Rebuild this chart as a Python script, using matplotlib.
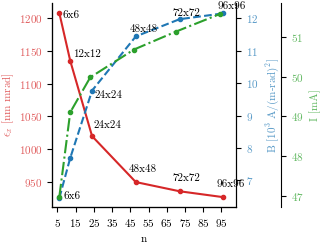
import numpy as np
import matplotlib
matplotlib.use('Agg')
from matplotlib import pyplot as plt

plt.rcParams['font.family'] = 'serif'
plt.rcParams['font.serif'] = ['cmr10']
plt.rcParams['mathtext.fontset'] = 'cm'
plt.rcParams['axes.unicode_minus'] = False
plt.rcParams['axes.formatter.use_mathtext'] = True
plt.rcParams['font.size'] = 8

# data
n_red = [6, 12, 24, 48, 72, 96]
emit = [1208, 1135, 1020, 950, 936, 927]
red_labels = ['6x6', '12x12', '24x24', '48x48', '72x72', '96x96']

n_blue = [6, 12, 24, 48, 72, 96]
bright = [6.45, 7.69, 9.77, 11.44, 11.97, 12.15]
blue_labels = ['6x6', '', '24x24', '48x48', '72x72', '96x96']

n_green = [6, 12, 23, 47, 70, 94]
current = [46.97, 49.1, 49.98, 50.68, 51.13, 51.57]

xticks = [5, 15, 25, 35, 45, 55, 65, 75, 85, 95]

# label offsets in pixels
red_off = [(3, -2), (3, 6), (1, 11), (-7, 13), (-7, 13), (-7, 13)]
blue_off = [(4, 2), (0, 0), (2, -5), (-6, 7), (-7, 6), (-6, 7)]

c_red = '#d62728'
c_blue = '#1f77b4'
c_green = '#2ca02c'

fig = plt.figure(figsize=(3.22, 2.44), dpi=100)
ax = fig.add_axes([52 / 322, 1 - 207 / 244, 184 / 322, 204 / 244])
ax2 = ax.twinx()
ax3 = ax.twinx()
ax3.spines['right'].set_position(('axes', 229 / 184))

for a in (ax, ax2, ax3):
    a.spines['top'].set_visible(False)

ax.plot(n_red, emit, '-o', color=c_red, lw=1.5, ms=3)
ax2.plot(n_blue, bright, '--o', color=c_blue, lw=1.5, ms=3)
ax3.plot(n_green, current, '-.o', color=c_green, lw=1.5, ms=3)

for x, y, s, off in zip(n_red, emit, red_labels, red_off):
    ax.annotate(s, (x, y), xytext=off, textcoords='offset pixels',
                ha='left', va='center', fontsize=8)
for x, y, s, off in zip(n_blue, bright, blue_labels, blue_off):
    if s:
        ax2.annotate(s, (x, y), xytext=off, textcoords='offset pixels',
                     ha='left', va='center', fontsize=8)

ax.set_xlim(2, 103)
ax.set_xticks(xticks)
ax.set_ylim(912, 1223)
ax.set_yticks([950, 1000, 1050, 1100, 1150, 1200])
ax2.set_ylim(6.18, 12.47)
ax2.set_yticks([7, 8, 9, 10, 11, 12])
ax3.set_ylim(46.72, 51.85)
ax3.set_yticks([47, 48, 49, 50, 51])

ax.set_xlabel('n', labelpad=4)
ax.set_ylabel(r'$\epsilon_x$ [nm mrad]', color=c_red, alpha=0.75, labelpad=1.5)
ax2.set_ylabel(r'B [10$^3$ A/(m-rad)$^2$]', color=c_blue, alpha=0.75)
ax3.set_ylabel('I [mA]', color=c_green, alpha=0.75)

for a, c in ((ax, c_red), (ax2, c_blue), (ax3, c_green)):
    for t in a.get_yticklabels():
        t.set_color(c)
        t.set_alpha(0.75)

fig.savefig('out.png', dpi=100)
